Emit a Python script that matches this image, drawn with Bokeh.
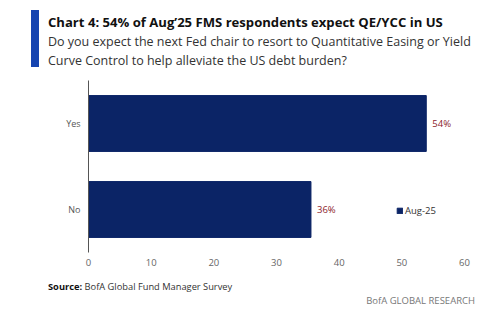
from bokeh.plotting import figure
from bokeh.models import ColumnDataSource, Legend, LegendItem, Div
from bokeh.layouts import column
from bokeh.embed import file_html
from bokeh.resources import INLINE
from bokeh.core.properties import value

categories = ["No", "Yes"]
values = [35.5, 53.9]
labels = ["36%", "54%"]
series_name = "Aug-25"
x_ticks = [0, 10, 20, 30, 40, 50, 60]

title = "Chart 4: 54% of Aug\u201925 FMS respondents expect QE/YCC in US"
subtitle1 = "Do you expect the next Fed chair to resort to Quantitative Easing or Yield"
subtitle2 = "Curve Control to help alleviate the US debt burden?"
source_bold = "Source:"
source_text = "BofA Global Fund Manager Survey"
brand = "BofA GLOBAL RESEARCH"

W = 500
HEAD_H, FIG_H, FOOT_H = 72, 204, 52

FONT = "'Open Sans', sans-serif"

header = Div(width=W, height=HEAD_H, margin=0, text=f"""
<div style="position:relative;width:{W}px;height:{HEAD_H}px;font-family:{FONT};">
  <div style="position:absolute;left:31px;top:10px;width:8px;height:57px;background:#1544b0;"></div>
  <div style="position:absolute;left:48px;top:13px;font-size:13.1px;line-height:18px;font-weight:bold;color:#111;white-space:nowrap;">{title}</div>
  <div style="position:absolute;left:48px;top:32px;font-size:12.5px;line-height:19px;color:#333;white-space:nowrap;">{subtitle1}<br>{subtitle2}</div>
</div>""")

footer = Div(width=W, height=FOOT_H, margin=0, text=f"""
<div style="position:relative;width:{W}px;height:{FOOT_H}px;font-family:{FONT};">
  <div style="position:absolute;left:48px;top:3px;font-size:9.3px;line-height:16px;color:#333;white-space:nowrap;"><b style="color:#111;">{source_bold}</b> {source_text}</div>
  <div style="position:absolute;right:25px;top:17px;font-size:9.5px;line-height:16px;color:#777;white-space:nowrap;">{brand}</div>
</div>""")

p = figure(width=W, height=FIG_H, y_range=categories, x_range=(0, 60),
           output_backend="svg", toolbar_location=None, margin=0,
           min_border_left=88, min_border_right=36, min_border_top=8, min_border_bottom=24)
p.outline_line_color = None
p.grid.grid_line_color = None

src = ColumnDataSource(dict(cat=categories, val=values, lab=labels))
r = p.hbar(y="cat", right="val", left=0, height=0.65, source=src,
           fill_color="#0b2466", line_color="#0b2466")
p.text(x="val", y="cat", text="lab", source=src, x_offset=6,
       text_baseline="middle", text_align="left", text_color="#8b1c2c",
       text_font=value("Open Sans"), text_font_size="9.5px")

p.xaxis.ticker = x_ticks
p.xaxis.axis_line_color = None
p.xaxis.major_tick_line_color = None
p.xaxis.major_tick_out = 0
p.xaxis.major_tick_in = 0
p.xaxis.minor_tick_line_color = None
p.xaxis.major_label_text_color = "#666666"
p.xaxis.major_label_text_font = "Open Sans"
p.xaxis.major_label_text_font_size = "9.5px"
p.xaxis.major_label_standoff = 6

p.yaxis.axis_line_color = "#555555"
p.yaxis.major_tick_line_color = None
p.yaxis.major_tick_out = 0
p.yaxis.major_tick_in = 0
p.yaxis.minor_tick_line_color = None
p.yaxis.major_label_text_color = "#555555"
p.yaxis.major_label_text_font = "Open Sans"
p.yaxis.major_label_text_font_size = "9px"
p.yaxis.major_label_standoff = 8

legend = Legend(items=[LegendItem(label=series_name, renderers=[r])],
                location=(308, 35), border_line_color=None, background_fill_alpha=0,
                glyph_width=7, glyph_height=7, padding=0, margin=0,
                label_text_font="Open Sans", label_text_font_size="9.5px",
                label_text_color="#333333", label_standoff=2)
p.add_layout(legend, "center")

layout = column(header, p, footer, width=W, spacing=0, margin=0)
open("out.html", "w").write(file_html(layout, INLINE))
